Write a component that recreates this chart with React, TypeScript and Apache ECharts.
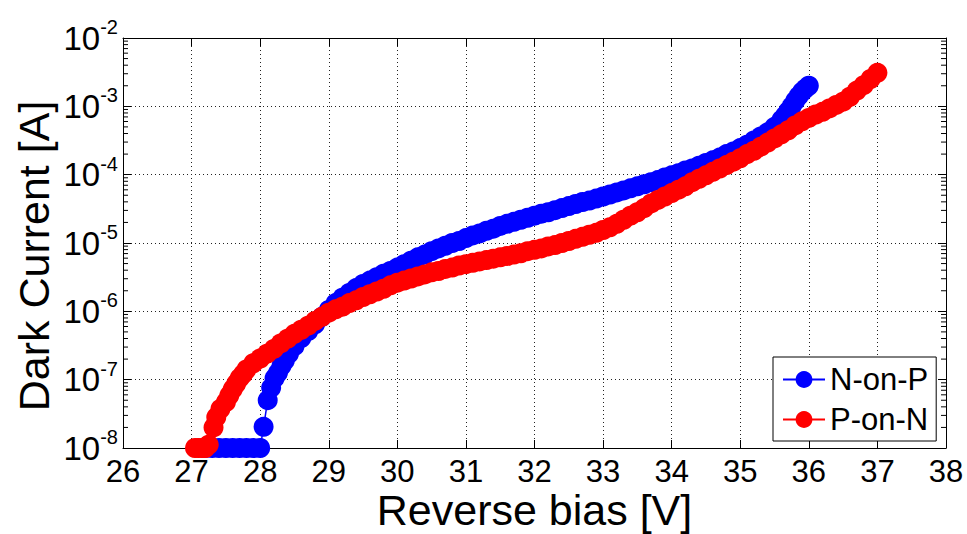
import React, { useEffect, useRef } from "react";
import * as echarts from "echarts";

// Axis ranges
const X_MIN = 26;
const X_MAX = 38;
const Y_MIN = 1e-8;
const Y_MAX = 1e-2;

const SERIES_NAMES = ["N-on-P", "P-on-N"];

// Dark current vs. reverse bias, N-on-P device: [bias V, current A]
const nOnP: [number, number][] = [
  [27.2, 1e-8], [27.3, 1e-8], [27.4, 1e-8], [27.5, 1e-8], [27.6, 1e-8],
  [27.7, 1e-8], [27.8, 1e-8], [27.9, 1e-8], [28.0, 1e-8],
  [28.05, 2.04e-8], [28.11, 5.01e-8], [28.16, 7.59e-8], [28.21, 1.05e-7],
  [28.26, 1.26e-7], [28.31, 1.58e-7], [28.36, 1.91e-7], [28.42, 2.4e-7],
  [28.5, 3.09e-7], [28.6, 4.07e-7], [28.7, 5.13e-7], [28.8, 6.46e-7], [28.9, 8.32e-7],
  [29.0, 1.05e-6], [29.1, 1.32e-6], [29.2, 1.58e-6], [29.3, 1.86e-6], [29.4, 2.19e-6],
  [29.5, 2.51e-6], [29.6, 2.82e-6], [29.7, 3.16e-6], [29.8, 3.55e-6], [29.9, 3.89e-6],
  [30.0, 4.37e-6], [30.1, 4.9e-6], [30.2, 5.5e-6], [30.3, 6.17e-6], [30.4, 6.76e-6],
  [30.5, 7.59e-6], [30.6, 8.32e-6], [30.7, 9.12e-6], [30.8, 1.0e-5], [30.9, 1.07e-5],
  [31.0, 1.18e-5], [31.1, 1.29e-5], [31.2, 1.38e-5], [31.3, 1.51e-5], [31.4, 1.62e-5],
  [31.5, 1.78e-5], [31.6, 1.91e-5], [31.7, 2.04e-5], [31.8, 2.19e-5], [31.9, 2.34e-5],
  [32.0, 2.51e-5], [32.1, 2.69e-5], [32.2, 2.82e-5], [32.3, 3.02e-5], [32.4, 3.24e-5],
  [32.5, 3.47e-5], [32.6, 3.72e-5], [32.7, 3.98e-5], [32.8, 4.17e-5], [32.9, 4.47e-5],
  [33.0, 4.79e-5], [33.1, 5.13e-5], [33.2, 5.5e-5], [33.3, 5.89e-5], [33.4, 6.31e-5],
  [33.5, 6.76e-5], [33.6, 7.24e-5], [33.7, 7.76e-5], [33.8, 8.32e-5], [33.9, 9.12e-5],
  [34.0, 9.77e-5], [34.1, 1.05e-4], [34.2, 1.15e-4], [34.3, 1.23e-4], [34.4, 1.35e-4],
  [34.5, 1.48e-4], [34.6, 1.62e-4], [34.7, 1.78e-4], [34.8, 2.0e-4], [34.9, 2.19e-4],
  [35.0, 2.45e-4], [35.1, 2.75e-4], [35.2, 3.16e-4], [35.3, 3.63e-4], [35.4, 4.17e-4],
  [35.5, 5.01e-4], [35.6, 6.31e-4], [35.65, 7.24e-4], [35.7, 8.51e-4], [35.75, 1.0e-3],
  [35.8, 1.2e-3], [35.85, 1.41e-3], [35.9, 1.62e-3], [35.95, 1.82e-3], [36.0, 2.0e-3],
];

// Dark current vs. reverse bias, P-on-N device: [bias V, current A]
const pOnN: [number, number][] = [
  [27.05, 1e-8], [27.1, 1e-8], [27.15, 1e-8], [27.2, 1e-8], [27.25, 1.12e-8],
  [27.32, 2.0e-8], [27.36, 2.82e-8], [27.42, 3.72e-8], [27.5, 4.68e-8], [27.55, 5.89e-8],
  [27.6, 7.24e-8], [27.65, 8.71e-8], [27.7, 1.05e-7], [27.75, 1.2e-7], [27.8, 1.41e-7],
  [27.9, 1.74e-7], [28.0, 2.04e-7], [28.1, 2.4e-7], [28.2, 2.82e-7], [28.3, 3.39e-7],
  [28.4, 3.98e-7], [28.5, 4.68e-7], [28.6, 5.37e-7], [28.7, 6.17e-7], [28.8, 7.24e-7],
  [28.9, 8.32e-7], [29.0, 9.55e-7], [29.1, 1.07e-6], [29.2, 1.17e-6], [29.3, 1.32e-6],
  [29.4, 1.45e-6], [29.5, 1.62e-6], [29.6, 1.78e-6], [29.7, 1.95e-6], [29.8, 2.14e-6],
  [29.9, 2.4e-6], [30.0, 2.63e-6], [30.1, 2.82e-6], [30.2, 3.02e-6], [30.3, 3.24e-6],
  [30.4, 3.47e-6], [30.5, 3.72e-6], [30.6, 3.89e-6], [30.7, 4.17e-6], [30.8, 4.37e-6],
  [30.9, 4.68e-6], [31.0, 4.9e-6], [31.1, 5.13e-6], [31.2, 5.37e-6], [31.3, 5.62e-6],
  [31.4, 5.89e-6], [31.5, 6.17e-6], [31.6, 6.46e-6], [31.7, 6.76e-6], [31.8, 7.08e-6],
  [31.9, 7.59e-6], [32.0, 7.94e-6], [32.1, 8.32e-6], [32.2, 8.91e-6], [32.3, 9.33e-6],
  [32.4, 1.0e-5], [32.5, 1.07e-5], [32.6, 1.15e-5], [32.7, 1.23e-5], [32.8, 1.32e-5],
  [32.9, 1.41e-5], [33.0, 1.55e-5], [33.1, 1.7e-5], [33.2, 1.91e-5], [33.3, 2.19e-5],
  [33.4, 2.51e-5], [33.5, 2.82e-5], [33.6, 3.24e-5], [33.7, 3.8e-5], [33.8, 4.27e-5],
  [33.9, 4.79e-5], [34.0, 5.37e-5], [34.1, 6.03e-5], [34.2, 6.76e-5], [34.3, 7.76e-5],
  [34.4, 8.71e-5], [34.5, 9.77e-5], [34.6, 1.1e-4], [34.7, 1.23e-4], [34.8, 1.38e-4],
  [34.9, 1.55e-4], [35.0, 1.74e-4], [35.1, 2.0e-4], [35.2, 2.24e-4], [35.3, 2.57e-4],
  [35.4, 2.95e-4], [35.5, 3.39e-4], [35.6, 3.89e-4], [35.7, 4.47e-4], [35.8, 5.25e-4],
  [35.9, 6.03e-4], [36.0, 6.76e-4], [36.1, 7.59e-4], [36.2, 8.32e-4], [36.3, 9.33e-4],
  [36.4, 1.05e-3], [36.5, 1.17e-3], [36.6, 1.38e-3], [36.7, 1.7e-3], [36.8, 2.04e-3],
  [36.9, 2.51e-3], [37.0, 3.09e-3],
];

// Log-axis minor ticks: 2..9 times each decade
const DECADES = [1e-8, 1e-7, 1e-6, 1e-5, 1e-4, 1e-3];
const MINOR_MULTIPLES = [2, 3, 4, 5, 6, 7, 8, 9];

const FONT = '"Liberation Sans", Arial, Helvetica, sans-serif';
const BLUE = "#0000ff";
const RED = "#ff0000";

export default function App() {
  const ref = useRef<HTMLDivElement>(null);

  useEffect(() => {
    if (!ref.current) return;
    const chart = echarts.init(ref.current, null, { renderer: "svg" });

    const minorTicks = DECADES.flatMap((d) => MINOR_MULTIPLES.map((m) => m * d));
    const black = { color: "#000", width: 1 };
    const gridLine = { show: true, lineStyle: { color: "#222", width: 1, type: [1, 3] } };
    const axisLine = { show: true, onZero: false, lineStyle: black };
    const tick = { show: true, inside: true, length: 8, lineStyle: black };

    const yAxisBase = {
      type: "log",
      logBase: 10,
      min: Y_MIN,
      max: Y_MAX,
      splitNumber: 6,
      axisLine,
      axisTick: tick,
      minorTick: { show: false },
    };

    const option: any = {
      animation: false,
      backgroundColor: "#fff",
      grid: {
        left: 123,
        right: 21,
        top: 38,
        bottom: 86,
        containLabel: false,
        outerBoundsMode: "none",
      },
      legend: {
        data: SERIES_NAMES,
        orient: "vertical",
        left: 773,
        top: 357,
        itemWidth: 42,
        itemHeight: 21,
        itemGap: 9,
        padding: [7, 8, 6, 9],
        borderColor: "#000",
        borderWidth: 1,
        backgroundColor: "#fff",
        selectedMode: false,
        textStyle: { fontSize: 31, lineHeight: 31, color: "#000", fontFamily: FONT },
      },
      xAxis: [
        {
          type: "value",
          min: X_MIN,
          max: X_MAX,
          interval: 1,
          position: "bottom",
          axisLine,
          axisTick: tick,
          axisLabel: { fontSize: 31, lineHeight: 24, color: "#000", fontFamily: FONT, margin: 11 },
          splitLine: gridLine,
          name: "Reverse bias [V]",
          nameLocation: "middle",
          nameGap: 44,
          nameMoveOverlap: false,
          nameTextStyle: { fontSize: 43, lineHeight: 36, color: "#000", fontFamily: FONT },
        },
        {
          type: "value",
          min: X_MIN,
          max: X_MAX,
          interval: 1,
          position: "top",
          axisLine,
          axisTick: tick,
          axisLabel: { show: false },
          splitLine: { show: false },
        },
      ],
      yAxis: [
        {
          ...yAxisBase,
          position: "left",
          splitLine: gridLine,
          axisLabel: {
            margin: 5,
            color: "#000",
            formatter: (v: number) => `{b|10}{e|${Math.round(Math.log10(v))}}`,
            rich: {
              b: { fontSize: 33, lineHeight: 42, fontFamily: FONT, color: "#000" },
              e: { fontSize: 20, lineHeight: 19, verticalAlign: "top", fontFamily: FONT, color: "#000" },
            },
          },
          name: "Dark Current [A]",
          nameLocation: "middle",
          nameGap: 68,
          nameMoveOverlap: false,
          nameTextStyle: {
            fontSize: 43,
            color: "#000",
            fontFamily: FONT,
            padding: [0, 26, 0, 0],
          },
        },
        {
          ...yAxisBase,
          position: "right",
          splitLine: { show: false },
          axisLabel: { show: false },
        },
      ],
      series: [
        {
          name: SERIES_NAMES[0],
          type: "line",
          data: nOnP,
          xAxisIndex: 0,
          yAxisIndex: 0,
          symbol: "circle",
          symbolSize: 20,
          showSymbol: true,
          showAllSymbol: true,
          clip: false,
          z: 3,
          lineStyle: { color: BLUE, width: 1.5 },
          itemStyle: { color: BLUE },
          emphasis: { disabled: true },
        },
        {
          name: SERIES_NAMES[1],
          type: "line",
          data: pOnN,
          xAxisIndex: 0,
          yAxisIndex: 0,
          symbol: "circle",
          symbolSize: 20,
          showSymbol: true,
          showAllSymbol: true,
          clip: false,
          z: 4,
          lineStyle: { color: RED, width: 1.5 },
          itemStyle: { color: RED },
          emphasis: { disabled: true },
        },
        {
          // minor ticks on the left and right frame edges
          type: "custom",
          silent: true,
          clip: false,
          z: 5,
          xAxisIndex: 0,
          yAxisIndex: 0,
          data: minorTicks.map((v) => [X_MIN, v]),
          renderItem: (params: any, api: any) => {
            const cs = params.coordSys;
            const y = api.coord([X_MIN, api.value(1)])[1];
            const style = { stroke: "#000", lineWidth: 1 };
            return {
              type: "group",
              children: [
                { type: "line", shape: { x1: cs.x, y1: y, x2: cs.x + 5, y2: y }, style },
                {
                  type: "line",
                  shape: { x1: cs.x + cs.width - 5, y1: y, x2: cs.x + cs.width, y2: y },
                  style,
                },
              ],
            };
          },
        },
      ],
    };

    chart.setOption(option);
    return () => chart.dispose();
  }, []);

  return (
    <div
      ref={ref}
      style={{ position: "fixed", left: 0, top: 0, width: 967, height: 534, background: "#fff" }}
    />
  );
}
